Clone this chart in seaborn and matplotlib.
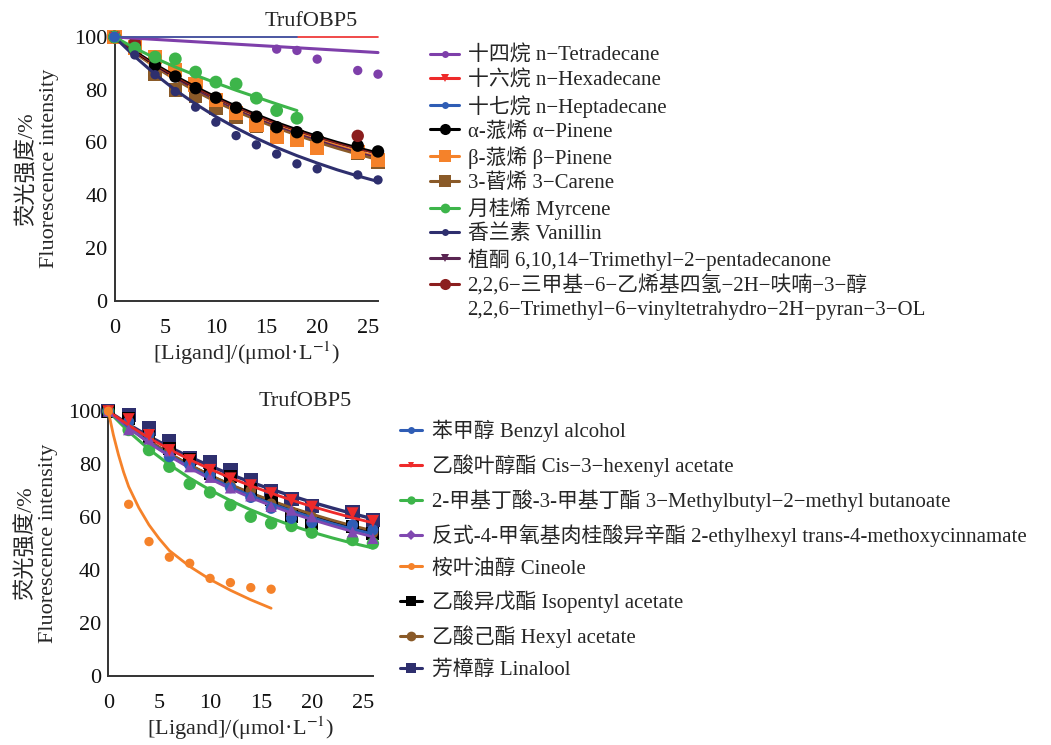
import matplotlib
matplotlib.use("Agg")
import matplotlib.pyplot as plt
import seaborn as sns
from matplotlib.lines import Line2D

# ---------------- data ----------------
CONC = [0, 2, 4, 6, 8, 10, 12, 14, 16, 18, 20, 24, 26]
FIT_X = [0, 2, 4, 6, 8, 10, 12, 14, 16, 18, 20, 22, 24, 26]

# top panel labels
TOP_LABELS = [
    "十四烷 n−Tetradecane",
    "十六烷 n−Hexadecane",
    "十七烷 n−Heptadecane",
    "α-蒎烯 α−Pinene",
    "β-蒎烯 β−Pinene",
    "3-蒈烯 3−Carene",
    "月桂烯 Myrcene",
    "香兰素 Vanillin",
    "植酮 6,10,14−Trimethyl−2−pentadecanone",
    "2,2,6−三甲基−6−乙烯基四氢−2H−呋喃−3−醇",
]
TOP_LABEL_LINE2 = "2,2,6−Trimethyl−6−vinyltetrahydro−2H−pyran−3−OL"

# top panel points
tetradecane_x = [0, 16, 18, 20, 24, 26]
tetradecane_y = [100, 95.4, 94.9, 91.6, 87.3, 85.9]
hexadecane_x = [0]
hexadecane_y = [100]
heptadecane_x = [0]
heptadecane_y = [100]
apinene_y = [100, 96.5, 89.3, 85.0, 80.6, 77.0, 73.2, 69.8, 65.8, 63.9, 62.0, 58.8, 56.6]
bpinene_y = [100, 96.0, 92.3, 87.6, 82.0, 76.0, 71.1, 66.7, 62.2, 61.0, 57.8, 56.3, 53.4]
carene_y = [100, 96.0, 86.0, 80.0, 77.5, 73.0, 69.5, 66.0, 64.0, 62.0, 60.0, 56.0, 52.5]
myrcene_x = [0, 2, 4, 6, 8, 10, 12, 14, 16, 18]
myrcene_y = [100, 95.8, 92.4, 91.7, 86.7, 82.9, 82.2, 76.8, 72.1, 69.2]
vanillin_y = [100, 93.2, 85.7, 79.3, 73.4, 67.7, 62.6, 59.1, 55.6, 51.9, 50.0, 47.7, 45.8]
phytone_x = [0]
phytone_y = [100]
pyranol_x = [0, 2, 24]
pyranol_y = [100, 97.8, 62.5]

# top panel fitted curves
tetradecane_fx = [0, 26]
tetradecane_fy = [100, 94.1]
hexadecane_fx = [0, 26]
hexadecane_fy = [100, 100]
heptadecane_fx = [0, 18]
heptadecane_fy = [100, 100]
apinene_fy = [100, 94.5, 89.6, 85.1, 81.0, 77.2, 73.7, 70.5, 67.5, 64.8, 62.3, 60.0, 57.9, 56.0]
bpinene_fy = [100, 94.3, 89.2, 84.6, 80.3, 76.4, 72.8, 69.5, 66.5, 63.7, 61.2, 58.8, 56.6, 54.6]
carene_fy = [100, 94.0, 88.7, 83.9, 79.5, 75.5, 71.9, 68.6, 65.6, 62.8, 60.2, 57.8, 55.6, 53.5]
myrcene_fx = [0, 2, 4, 6, 8, 10, 12, 14, 16, 18]
myrcene_fy = [100, 95.8, 92.0, 88.6, 85.5, 82.6, 79.8, 77.2, 74.6, 72.1]
vanillin_fy = [100, 92.6, 85.9, 79.9, 74.6, 69.8, 65.5, 61.6, 58.1, 55.0, 52.2, 49.6, 47.3, 45.2]
phytone_fy = [100, 94.2, 89.0, 84.3, 80.0, 76.1, 72.5, 69.2, 66.2, 63.4, 60.9, 58.5, 56.3, 54.3]
pyranol_fy = [100, 94.4, 89.4, 84.9, 80.7, 76.9, 73.4, 70.2, 67.2, 64.5, 62.0, 59.7, 57.6, 55.6]

# bottom panel labels
BOT_LABELS = [
    "苯甲醇 Benzyl alcohol",
    "乙酸叶醇酯 Cis−3−hexenyl acetate",
    "2-甲基丁酸-3-甲基丁酯 3−Methylbutyl−2−methyl butanoate",
    "反式-4-甲氧基肉桂酸异辛酯 2-ethylhexyl trans-4-methoxycinnamate",
    "桉叶油醇 Cineole",
    "乙酸异戊酯 Isopentyl acetate",
    "乙酸己酯 Hexyl acetate",
    "芳樟醇 Linalool",
]

# bottom panel points
benzyl_y = [100, 96.0, 91.3, 82.8, 79.7, 75.9, 71.1, 67.4, 63.3, 59.5, 57.9, 57.0, 55.1]
hexenyl_y = [100, 97.0, 91.0, 85.3, 81.5, 77.8, 74.6, 72.0, 69.0, 66.4, 63.9, 61.4, 58.5]
methylbutyl_y = [100, 92.9, 85.3, 79.0, 72.5, 69.3, 64.5, 60.1, 57.6, 56.6, 54.1, 51.3, 50.0]
cinnamate_y = [100, 93.0, 89.5, 85.0, 79.0, 75.0, 71.0, 68.0, 64.0, 62.6, 60.1, 54.4, 51.9]
cineole_x = [0, 2, 4, 6, 8, 10, 12, 14, 16]
cineole_y = [100, 64.8, 50.7, 44.8, 42.5, 36.8, 35.2, 33.3, 32.7]
isopentyl_y = [100, 97.3, 90.4, 86.0, 81.6, 76.5, 75.2, 70.5, 66.4, 60.1, 57.6, 56.3, 53.8]
hexyl_y = [100, 96.0, 90.0, 85.0, 80.0, 76.0, 72.0, 70.0, 65.0, 62.0, 60.0, 57.0, 54.0]
linalool_y = [100, 98.6, 93.5, 88.7, 82.2, 80.9, 77.8, 74.0, 69.6, 66.8, 64.2, 62.0, 58.9]

# bottom panel fitted curves
linalool_fy = [100, 95.0, 90.5, 86.4, 82.7, 79.3, 76.1, 73.2, 70.5, 68.0, 65.6, 63.4, 61.3, 59.3]
hexenyl_fy = [100, 94.7, 89.9, 85.6, 81.7, 78.1, 74.8, 71.8, 69.0, 66.4, 64.0, 61.8, 59.7, 57.8]
isopentyl_fy = [100, 94.0, 88.6, 83.8, 79.5, 75.6, 72.0, 68.8, 65.9, 63.2, 60.7, 58.4, 56.3, 54.4]
hexyl_fy = [100, 94.1, 88.8, 84.0, 79.7, 75.8, 72.3, 69.1, 66.2, 63.5, 61.1, 58.8, 56.7, 54.8]
benzyl_fy = [100, 93.8, 88.2, 83.3, 78.9, 74.9, 71.3, 68.0, 65.0, 62.3, 59.8, 57.5, 55.4, 53.5]
cinnamate_fy = [100, 93.7, 88.0, 83.0, 78.5, 74.4, 70.7, 67.3, 64.3, 61.5, 59.0, 56.7, 54.5, 52.5]
methylbutyl_fy = [100, 92.3, 85.6, 79.8, 74.7, 70.2, 66.2, 62.7, 59.6, 56.8, 54.3, 52.1, 50.1, 48.3]
cineole_fx = [0, 0.5, 1, 1.5, 2, 3, 4, 5, 6, 8, 10, 12, 14, 16]
cineole_fy = [100, 91, 83.5, 77, 71.5, 63.5, 57, 51.8, 47.3, 41.3, 36.4, 32.3, 28.7, 25.5]

X_TICKS = [0, 5, 10, 15, 20, 25]
Y_TICKS = [0, 20, 40, 60, 80, 100]
TITLE = "TrufOBP5"
YLABEL = "荧光强度/%\nFluorescence intensity"
XLABEL = "[Ligand]/(μmol·L$^{-1}$)"

# ---------------- style ----------------
sns.set_style("white")
plt.rcParams["font.family"] = ["Liberation Serif", "Noto Sans CJK SC"]
plt.rcParams["mathtext.fontset"] = "stix"
plt.rcParams["axes.unicode_minus"] = True

C_PURPLE = "#7E3FAA"
C_RED = "#EE2A2A"
C_BLUE = "#2F5DB5"
C_BLACK = "#000000"
C_ORANGE = "#F5822A"
C_BROWN = "#8A5A28"
C_GREEN = "#3DB54A"
C_NAVY = "#2E2F6E"
C_PHYT = "#5A2552"
C_MAROON = "#8B1E1E"

FS_TICK = 16
FS_LEG = 15

W, H = 1051, 745
fig = plt.figure(figsize=(W / 100, H / 100), dpi=100)
ax1 = fig.add_axes([114.5 / W, 1 - 300.7 / H, 263.5 / W, 263.7 / H])
ax2 = fig.add_axes([108.3 / W, 1 - 675.7 / H, 264.6 / W, 264.5 / H])


def draw(ax, px, py, fx, fy, color, marker, s, lw, z):
    if fx is not None:
        sns.lineplot(x=fx, y=fy, ax=ax, color=color, lw=lw, sort=False,
                     estimator=None, legend=False, zorder=z, clip_on=False)
    sns.scatterplot(x=px, y=py, ax=ax, color=color, marker=marker, s=s,
                    edgecolor="none", linewidth=0, legend=False,
                    clip_on=False, zorder=z + 0.5)


# top panel series (drawing order)
draw(ax1, CONC, carene_y, FIT_X, carene_fy, C_BROWN, "s", 95, 2.2, 3)
draw(ax1, CONC, bpinene_y, FIT_X, bpinene_fy, C_ORANGE, "s", 105, 2.2, 4)
draw(ax1, phytone_x, phytone_y, FIT_X, phytone_fy, C_PHYT, "v", 60, 1.2, 4.2)
draw(ax1, CONC, apinene_y, FIT_X, apinene_fy, C_BLACK, "o", 80, 2.2, 5)
draw(ax1, pyranol_x, pyranol_y, FIT_X, pyranol_fy, C_MAROON, "o", 80, 1.0, 5.2)
draw(ax1, myrcene_x, myrcene_y, myrcene_fx, myrcene_fy, C_GREEN, "o", 85, 2.2, 6)
draw(ax1, CONC, vanillin_y, FIT_X, vanillin_fy, C_NAVY, "o", 45, 2.2, 6)
draw(ax1, tetradecane_x, tetradecane_y, tetradecane_fx, tetradecane_fy, C_PURPLE, "o", 45, 2.2, 6)
draw(ax1, hexadecane_x, hexadecane_y, hexadecane_fx, hexadecane_fy, C_RED, "v", 50, 1.2, 7)
draw(ax1, heptadecane_x, heptadecane_y, heptadecane_fx, heptadecane_fy, C_BLUE, "o", 60, 1.2, 7.2)

# bottom panel series
draw(ax2, CONC, linalool_y, FIT_X, linalool_fy, C_NAVY, "s", 105, 2.4, 3)
draw(ax2, CONC, isopentyl_y, FIT_X, isopentyl_fy, C_BLACK, "s", 85, 2.4, 3.5)
draw(ax2, CONC, hexyl_y, FIT_X, hexyl_fy, C_BROWN, "o", 60, 2.0, 3.7)
draw(ax2, CONC, methylbutyl_y, FIT_X, methylbutyl_fy, C_GREEN, "o", 80, 2.2, 4)
draw(ax2, CONC, benzyl_y, FIT_X, benzyl_fy, C_BLUE, "o", 65, 2.2, 4.5)
draw(ax2, CONC, cinnamate_y, FIT_X, cinnamate_fy, "#8048B0", "^", 65, 2.0, 4.7)
draw(ax2, CONC, hexenyl_y, FIT_X, hexenyl_fy, C_RED, "v", 75, 2.0, 5)
draw(ax2, cineole_x, cineole_y, cineole_fx, cineole_fy, C_ORANGE, "o", 45, 2.0, 6)

for ax, ypos, ty in ((ax1, -0.211, 1.059), (ax2, -0.19, 1.035)):
    ax.set_xlim(0, 26)
    ax.set_ylim(0, 100)
    ax.set_xticks(X_TICKS)
    ax.set_yticks(Y_TICKS)
    ax.tick_params(axis="y", direction="in", length=5, width=1.2,
                   labelsize=FS_TICK, pad=5, colors="#222222", labelcolor="#111111")
    ax.tick_params(axis="x", direction="in", length=5, width=1.2,
                   labelsize=FS_TICK, pad=13, colors="#222222", labelcolor="#111111")
    for side in ("top", "right"):
        ax.spines[side].set_visible(False)
    for side in ("left", "bottom"):
        ax.spines[side].set_linewidth(1.4)
        ax.spines[side].set_color("#333333")
    ax.set_xlabel(XLABEL, fontsize=FS_TICK, labelpad=1)
    ax.set_ylabel(YLABEL, fontsize=FS_TICK, linespacing=1.15)
    ax.yaxis.set_label_coords(ypos, 0.5)
    ax.text(0.745, ty, TITLE, transform=ax.transAxes, fontsize=FS_TICK,
            ha="center", va="center")

# legends
top_styles = [
    (C_PURPLE, "o", 5), (C_RED, "v", 6), (C_BLUE, "o", 5), (C_BLACK, "o", 8),
    (C_ORANGE, "s", 8), (C_BROWN, "s", 8), (C_GREEN, "o", 7), (C_NAVY, "o", 5),
    (C_PHYT, "v", 6), (C_MAROON, "o", 8),
]
h1 = [Line2D([], [], color=c, marker=m, markersize=ms, lw=2.2, markeredgewidth=0)
      for c, m, ms in top_styles]
h1.append(Line2D([], [], color="none"))
l1 = TOP_LABELS + [TOP_LABEL_LINE2]
fig.legend(h1, l1, loc="upper left", bbox_to_anchor=(430 / W, 1 - 46 / H),
           bbox_transform=fig.transFigure, frameon=False, fontsize=FS_LEG,
           handlelength=1.4, handletextpad=0.4, labelspacing=0.21,
           borderpad=0, borderaxespad=0)

bot_styles = [
    (C_BLUE, "o", 5), (C_RED, "v", 5), (C_GREEN, "o", 6), ("#8048B0", "D", 5),
    (C_ORANGE, "o", 5), (C_BLACK, "s", 7), (C_BROWN, "o", 7), (C_NAVY, "s", 7),
]
h2 = [Line2D([], [], color=c, marker=m, markersize=ms, lw=2.2, markeredgewidth=0)
      for c, m, ms in bot_styles]
fig.legend(h2, BOT_LABELS, loc="upper left", bbox_to_anchor=(400 / W, 1 - 420 / H),
           bbox_transform=fig.transFigure, frameon=False, fontsize=FS_LEG,
           handlelength=1.05, handletextpad=0.5, labelspacing=0.58,
           borderpad=0, borderaxespad=0)

fig.savefig("out.png", dpi=100)
